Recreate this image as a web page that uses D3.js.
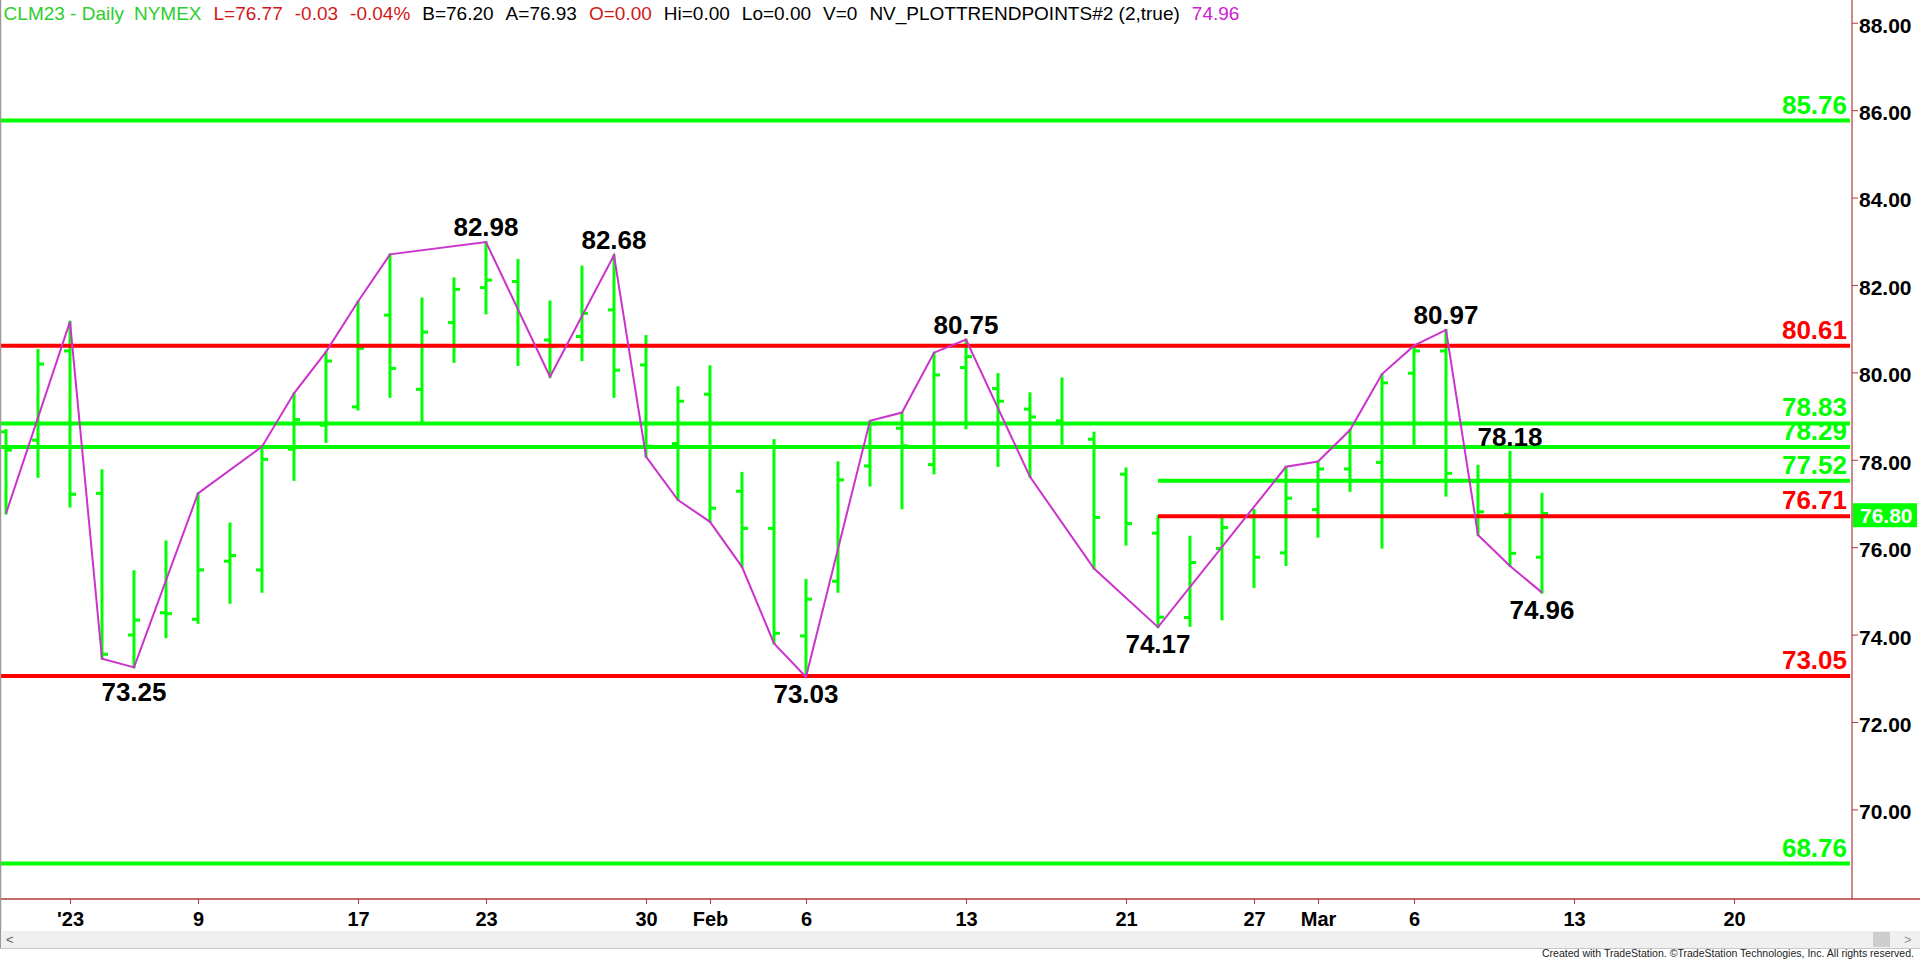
<!DOCTYPE html>
<html>
<head>
<meta charset="utf-8">
<script src="https://cdn.jsdelivr.net/npm/d3@7/dist/d3.min.js"></script>
<style>
html,body{margin:0;padding:0;background:#ffffff;overflow:hidden}
svg{display:block}
</style>
</head>
<body>
<svg id="chart" width="1920" height="963"></svg>
<script>
// ---------------- DATA ----------------
// trading days shown on the time axis (Dec 29 2022 .. Mar 23 2023)
const days = [
  "2022-12-29","2022-12-30",
  "2023-01-03","2023-01-04","2023-01-05","2023-01-06",
  "2023-01-09","2023-01-10","2023-01-11","2023-01-12","2023-01-13",
  "2023-01-17","2023-01-18","2023-01-19","2023-01-20",
  "2023-01-23","2023-01-24","2023-01-25","2023-01-26","2023-01-27",
  "2023-01-30","2023-01-31","2023-02-01","2023-02-02","2023-02-03",
  "2023-02-06","2023-02-07","2023-02-08","2023-02-09","2023-02-10",
  "2023-02-13","2023-02-14","2023-02-15","2023-02-16","2023-02-17",
  "2023-02-21","2023-02-22","2023-02-23","2023-02-24",
  "2023-02-27","2023-02-28","2023-03-01","2023-03-02","2023-03-03",
  "2023-03-06","2023-03-07","2023-03-08","2023-03-09","2023-03-10",
  "2023-03-13","2023-03-14","2023-03-15","2023-03-16","2023-03-17",
  "2023-03-20","2023-03-21","2023-03-22","2023-03-23"
];

// daily OHLC bars, one per trading day starting Dec 29
const openPrices  = [78.64,78.45,80.49,77.23,73.99,74.50,74.35,75.68,75.48,78.24,78.79,79.21,81.31,79.61,81.14,81.94,82.08,80.74,80.82,81.43,80.17,78.37,79.50,77.28,76.43,73.97,75.22,77.86,78.72,77.89,80.11,79.63,79.16,78.89,78.47,77.67,76.32,74.39,75.97,76.70,75.87,76.86,77.79,77.94,79.98,80.49,77.50,76.75,75.77];
const highPrices  = [78.68,80.51,81.16,77.76,75.45,76.13,77.23,76.54,78.30,79.52,80.47,81.62,82.70,81.69,82.15,82.98,82.57,81.62,82.42,82.68,80.83,79.66,80.14,77.70,78.45,75.25,77.94,78.89,79.08,80.45,80.75,79.96,79.52,79.86,78.62,77.80,76.71,76.24,76.73,76.85,77.84,77.96,78.68,79.96,80.61,80.97,77.86,78.18,77.22];
const lowPrices   = [76.77,77.61,76.93,73.45,73.25,73.94,74.27,74.73,74.98,77.54,78.41,79.15,79.44,78.87,80.24,81.35,80.17,79.90,80.28,79.44,78.07,77.08,76.58,75.55,73.80,73.03,74.98,77.41,76.89,77.69,78.72,77.86,77.61,78.31,75.51,76.06,74.17,74.20,74.35,75.09,75.59,76.24,77.29,75.99,78.35,77.18,76.28,75.57,74.96];
const closePrices = [78.22,80.19,77.21,73.55,74.33,74.48,75.48,75.81,78.01,78.92,80.26,80.55,80.09,80.92,81.90,82.11,80.60,80.59,81.35,80.05,78.31,79.34,76.89,76.43,74.03,74.81,77.54,78.82,78.32,79.94,80.36,79.34,78.98,78.83,76.68,76.54,74.40,75.65,76.45,75.77,77.12,77.79,78.30,79.76,80.49,77.69,76.81,75.86,76.77];

// NV_PLOTTRENDPOINTS swing line
const trendDates = ["2022-12-29","2023-01-03","2023-01-04","2023-01-05","2023-01-09","2023-01-11","2023-01-12","2023-01-13","2023-01-17","2023-01-18","2023-01-23","2023-01-25","2023-01-27","2023-01-30","2023-01-31","2023-02-01","2023-02-02","2023-02-03","2023-02-06","2023-02-08","2023-02-09","2023-02-10","2023-02-13","2023-02-15","2023-02-17","2023-02-22","2023-02-28","2023-03-01","2023-03-02","2023-03-03","2023-03-06","2023-03-07","2023-03-08","2023-03-09","2023-03-10"];
const trendPrices = [76.77,81.16,73.45,73.25,77.23,78.30,79.52,80.47,81.62,82.70,82.98,79.90,82.68,78.07,77.08,76.58,75.55,73.80,73.03,78.89,79.08,80.45,80.75,77.61,75.51,74.17,77.84,77.96,78.68,79.96,80.61,80.97,76.28,75.57,74.96];

// swing point annotations
const swingDates  = ["2023-01-05","2023-01-23","2023-01-27","2023-02-06","2023-02-13","2023-02-22","2023-03-07","2023-03-09","2023-03-10"];
const swingPrices = [73.25,82.98,82.68,73.03,80.75,74.17,80.97,78.18,74.96];
const swingSides  = ["below","above","above","below","above","below","above","above","below"];

// horizontal levels
const levelPrices = [85.76,80.61,78.83,78.29,77.52,76.71,73.05,68.76];
const levelKinds  = ["target","mid","target","target","target","mid","mid","target"];
const levelStarts = [null,null,null,null,"2023-02-22","2023-02-22",null,null];

// axes
const priceTicks = [70,72,74,76,78,80,82,84,86,88];
const tickDates  = ["2023-01-03","2023-01-09","2023-01-17","2023-01-23","2023-01-30","2023-02-01","2023-02-06","2023-02-13","2023-02-21","2023-02-27","2023-03-01","2023-03-06","2023-03-13","2023-03-20"];
const tickLabels = ["'23","9","17","23","30","Feb","6","13","21","27","Mar","6","13","20"];
const lastPrice = 76.80;

// header
const headerTexts = ["CLM23 - Daily","NYMEX","L=76.77","-0.03","-0.04%","B=76.20","A=76.93","O=0.00","Hi=0.00","Lo=0.00","V=0","NV_PLOTTRENDPOINTS#2 (2,true)","74.96"];
const headerKinds = ["sym","sym","chg","chg","chg","quote","quote","chg","quote","quote","quote","quote","ind"];

// ---------------- STYLE / LAYOUT ----------------
const GREEN = "#00ff00", RED = "#ff0000", MAGENTA = "#cc33cc", AXIS = "#b03a3a";
const FONT = "'Liberation Sans', Arial, sans-serif";
const kindColor = {target: GREEN, mid: RED};
const headerColor = {sym: "#2ecc2e", chg: "#d01818", quote: "#000000", ind: "#d020d0"};

const axisX = 1852, axisY = 899, plotRight = 1850;

const svg = d3.select("#chart");
svg.append("rect").attr("width",1920).attr("height",963).attr("fill","#ffffff");

const x = d3.scalePoint().domain(days).range([6, 6 + (days.length - 1) * 32]);
const y = d3.scaleLinear().domain([67.95, 88.52]).range([axisY, 0]);

svg.append("clipPath").attr("id","plotclip")
  .append("rect").attr("x",0).attr("y",0).attr("width",plotRight).attr("height",axisY);

const plot = svg.append("g").attr("clip-path","url(#plotclip)");

// bars
const bars = days.slice(0, openPrices.length).map((d,i) => ({
  d, o: openPrices[i], h: highPrices[i], l: lowPrices[i], c: closePrices[i]
}));
const barG = plot.append("g").attr("stroke", GREEN).attr("stroke-width", 3);
barG.selectAll("line.hl").data(bars).join("line").attr("class","hl")
  .attr("x1", b => x(b.d)).attr("x2", b => x(b.d))
  .attr("y1", b => y(b.h) - 1).attr("y2", b => y(b.l) + 1);
barG.selectAll("line.op").data(bars).join("line").attr("class","op")
  .attr("x1", b => x(b.d) - 6).attr("x2", b => x(b.d))
  .attr("y1", b => y(b.o)).attr("y2", b => y(b.o));
barG.selectAll("line.cl").data(bars).join("line").attr("class","cl")
  .attr("x1", b => x(b.d)).attr("x2", b => x(b.d) + 6)
  .attr("y1", b => y(b.c)).attr("y2", b => y(b.c));

// levels
const levels = levelPrices.map((p,i) => ({p, kind: levelKinds[i], start: levelStarts[i]}));
plot.append("g").selectAll("line").data(levels).join("line")
  .attr("x1", L => L.start ? x(L.start) : 0)
  .attr("x2", plotRight)
  .attr("y1", L => y(L.p)).attr("y2", L => y(L.p))
  .attr("stroke", L => kindColor[L.kind]).attr("stroke-width", 4);

// trend line
const trend = trendDates.map((d,i) => [x(d), y(trendPrices[i])]);
plot.append("path").attr("d", d3.line()(trend))
  .attr("fill","none").attr("stroke", MAGENTA).attr("stroke-width", 2);

// level labels
svg.append("g").selectAll("text").data(levels).join("text")
  .attr("x", 1847).attr("y", L => y(L.p) - 7)
  .attr("text-anchor","end")
  .attr("font-family", FONT).attr("font-weight","bold").attr("font-size", 26)
  .attr("fill", L => kindColor[L.kind])
  .text(L => L.p.toFixed(2));

// swing labels (below-labels are nudged clear of any level line they would sit on)
const CAP = 19;
function swingBaseline(s) {
  if (s.s === "above") return y(s.p) - 6;
  let base = y(s.p) + 26;
  levels.forEach(L => {
    const ly = y(L.p);
    const x0 = L.start ? x(L.start) : 0;
    if (x(s.d) > x0 && ly > base - CAP - 3 && ly < base + 3) base = ly + 6 + CAP;
  });
  return base;
}
svg.append("g").selectAll("text").data(swingDates.map((d,i)=>({d, p: swingPrices[i], s: swingSides[i]})))
  .join("text")
  .attr("x", s => x(s.d))
  .attr("y", swingBaseline)
  .attr("text-anchor","middle")
  .attr("font-family", FONT).attr("font-weight","bold").attr("font-size", 26)
  .attr("fill","#000000")
  .text(s => s.p.toFixed(2));

// price axis
const yAxis = d3.axisRight(y).tickValues(priceTicks).tickFormat(d => d.toFixed(2)).tickSize(6).tickPadding(1);
const yg = svg.append("g").attr("transform", `translate(${axisX},0)`).call(yAxis);
yg.select(".domain").remove();
yg.selectAll(".tick line").attr("stroke", AXIS).attr("stroke-width", 1);
yg.selectAll(".tick text").attr("font-family", FONT).attr("font-weight","bold")
  .attr("font-size", 21).attr("fill","#000").attr("dy","0.45em");

// vertical axis line
svg.append("line").attr("x1", axisX).attr("x2", axisX).attr("y1", 0).attr("y2", axisY)
  .attr("stroke", AXIS).attr("stroke-width", 1.2);

// last price marker
const lp = svg.append("g").attr("transform", `translate(${axisX + 1},${y(lastPrice) + 3})`);
lp.append("rect").attr("x",0).attr("y",-12).attr("width",64).attr("height",24).attr("fill", GREEN);
lp.append("text").attr("x",7).attr("y",0).attr("dy","0.36em")
  .attr("font-family", FONT).attr("font-weight","bold").attr("font-size",21).attr("fill","#ffffff")
  .text(lastPrice.toFixed(2));

// date axis
const xAxis = d3.axisBottom(x).tickValues(tickDates).tickFormat((d,i) => tickLabels[i]).tickSize(5).tickPadding(8);
const xg = svg.append("g").attr("transform", `translate(0,${axisY})`).call(xAxis);
xg.select(".domain").remove();
xg.selectAll(".tick line").attr("stroke", AXIS).attr("stroke-width", 1);
xg.selectAll(".tick text").attr("font-family", FONT).attr("font-weight","bold")
  .attr("font-size", 20).attr("fill","#000");
svg.append("line").attr("x1", 0).attr("x2", 1920).attr("y1", axisY).attr("y2", axisY)
  .attr("stroke", AXIS).attr("stroke-width", 1.5);

// header: segments flow left to right with a fixed gap
const hg = svg.append("g").attr("font-family", FONT).attr("font-size", 19);
let hx = 3.6;
headerTexts.forEach((t,i) => {
  const node = hg.append("text").attr("x", hx).attr("y", 20)
    .attr("fill", headerColor[headerKinds[i]]).text(t);
  hx += node.node().getComputedTextLength() + (i === 0 ? 10 : 12);
});

// left frame line
svg.append("line").attr("x1",0.5).attr("x2",0.5).attr("y1",0).attr("y2",948)
  .attr("stroke","#9a9a9a").attr("stroke-width",1.5);

// scrollbar
svg.append("rect").attr("x",1).attr("y",931).attr("width",1919).attr("height",17).attr("fill","#f0f0f0");
svg.append("line").attr("x1",0).attr("x2",1920).attr("y1",948.5).attr("y2",948.5).attr("stroke","#c8c8c8");
svg.append("rect").attr("x",1873).attr("y",932).attr("width",17).attr("height",15).attr("fill","#cdcdcd");
svg.append("text").attr("x",6).attr("y",944).attr("font-family",FONT).attr("font-size",13).attr("fill","#606060").text("<");
svg.append("text").attr("x",1904).attr("y",944).attr("font-family",FONT).attr("font-size",13).attr("fill","#909090").text(">");

// footer
svg.append("text").attr("x",1914).attr("y",957).attr("text-anchor","end")
  .attr("font-family","'Liberation Sans Narrow', 'Arial Narrow', 'Liberation Sans', sans-serif")
  .attr("font-size",11).attr("fill","#222")
  .attr("textLength",372).attr("lengthAdjust","spacingAndGlyphs")
  .text("Created with TradeStation. \u00A9TradeStation Technologies, Inc. All rights reserved.");
</script>
</body>
</html>
